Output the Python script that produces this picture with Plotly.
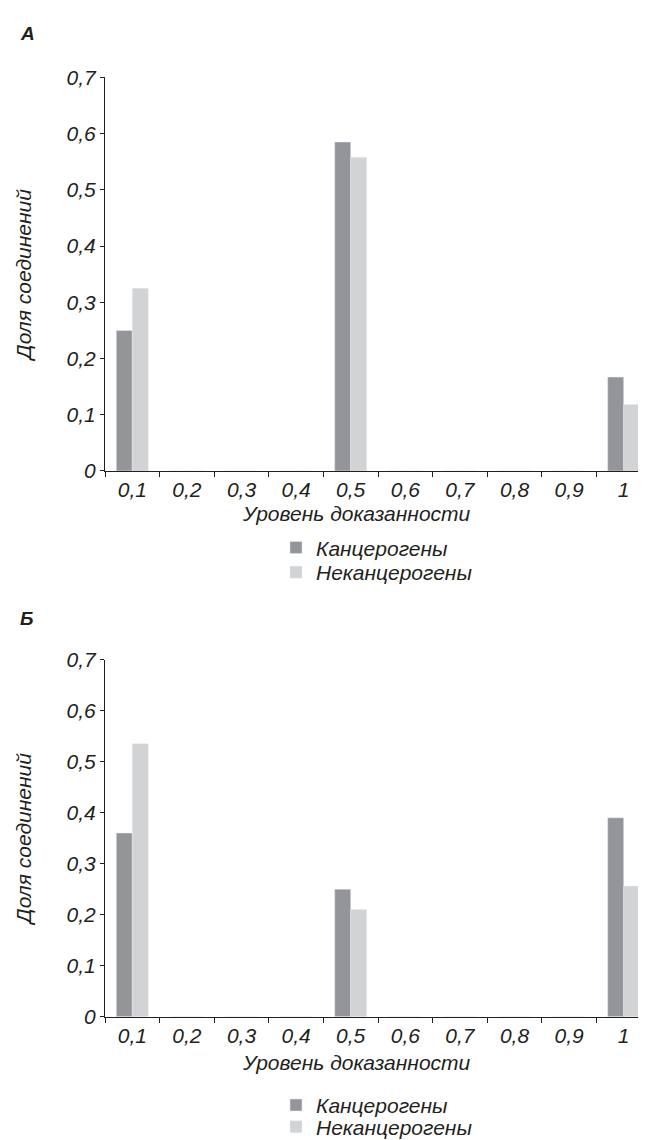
import plotly.graph_objects as go

categories = ["0,1", "0,2", "0,3", "0,4", "0,5", "0,6", "0,7", "0,8", "0,9", "1"]
series_names = ["Канцерогены", "Неканцерогены"]
a_carc = [0.25, 0, 0, 0, 0.585, 0, 0, 0, 0, 0.167]
a_non = [0.325, 0, 0, 0, 0.558, 0, 0, 0, 0, 0.118]
b_carc = [0.36, 0, 0, 0, 0.25, 0, 0, 0, 0, 0.39]
b_non = [0.535, 0, 0, 0, 0.21, 0, 0, 0, 0, 0.256]
y_tickvals = [0, 0.1, 0.2, 0.3, 0.4, 0.5, 0.6, 0.7]
panel_labels = ["А", "Б"]
x_title = "Уровень доказанности"
y_title = "Доля соединений"

W, H = 646, 1140
DARK = "#939598"
LIGHT = "#d1d3d4"
TXT = "#231f20"
FONT = "Liberation Sans, Arial, sans-serif"
FS = 21

def py(px):
    return 1 - px / H

fig = go.Figure()
fig.add_trace(go.Bar(x=categories, y=a_carc, name=series_names[0], marker_color=DARK,
                     xaxis="x", yaxis="y", legend="legend"))
fig.add_trace(go.Bar(x=categories, y=a_non, name=series_names[1], marker_color=LIGHT,
                     xaxis="x", yaxis="y", legend="legend2"))
fig.add_trace(go.Bar(x=categories, y=b_carc, name=series_names[0], marker_color=DARK,
                     xaxis="x2", yaxis="y2", legend="legend3"))
fig.add_trace(go.Bar(x=categories, y=b_non, name=series_names[1], marker_color=LIGHT,
                     xaxis="x2", yaxis="y2", legend="legend4"))

xdom = [97 / W, 643 / W]
italic = dict(size=FS, color=TXT, style="italic", family=FONT)
common_x = dict(domain=xdom, type="category", tickson="boundaries", ticks="outside",
                ticklen=5, tickcolor=TXT, showline=True, linecolor=TXT, linewidth=1,
                showgrid=False, zeroline=False, tickfont=italic, automargin=False)
common_y = dict(range=[0, 0.7], tickvals=y_tickvals, ticks="outside", ticklen=4, tickcolor=TXT,
                showline=True, linecolor=TXT, linewidth=1, showgrid=False, zeroline=False,
                tickfont=italic,
                title=dict(text=y_title, font=italic, standoff=29),
                automargin=False)

leg_common = dict(xanchor="left", yanchor="middle", font=italic, bgcolor="rgba(0,0,0,0)",
                  itemwidth=30, x=268 / W)

fig.update_layout(
    width=W, height=H,
    margin=dict(l=0, r=0, t=0, b=0),
    paper_bgcolor="white", plot_bgcolor="white",
    separators=", ",
    font=dict(family=FONT, color=TXT, size=FS, style="italic"),
    barmode="group", bargap=0.414, bargroupgap=0,
    xaxis=dict(anchor="y", **common_x),
    yaxis=dict(anchor="x", domain=[py(467.5), py(70)], **common_y),
    xaxis2=dict(anchor="y2", **common_x),
    yaxis2=dict(anchor="x2", domain=[py(1018.5), py(658)], **common_y),
    legend=dict(y=py(545), **leg_common),
    legend2=dict(y=py(570), **leg_common),
    legend3=dict(y=py(1108), **leg_common),
    legend4=dict(y=py(1130), **leg_common),
    showlegend=True,
)

# x-axis titles (centred slightly left of the axis middle, as in the original)
for ypx in [510, 1065]:
    fig.add_annotation(text=x_title, x=348 / W, y=py(ypx), xref="paper", yref="paper",
                       xanchor="center", yanchor="middle", showarrow=False, font=italic)

for lbl, ypx in zip(panel_labels, [26, 616]):
    fig.add_annotation(text="<b>" + lbl + "</b>", x=10 / W, y=py(ypx), xref="paper", yref="paper",
                       xanchor="left", yanchor="middle", showarrow=False,
                       font=dict(size=19, color=TXT, family=FONT, style="italic", weight="bold"))

fig.write_html("out.html")
